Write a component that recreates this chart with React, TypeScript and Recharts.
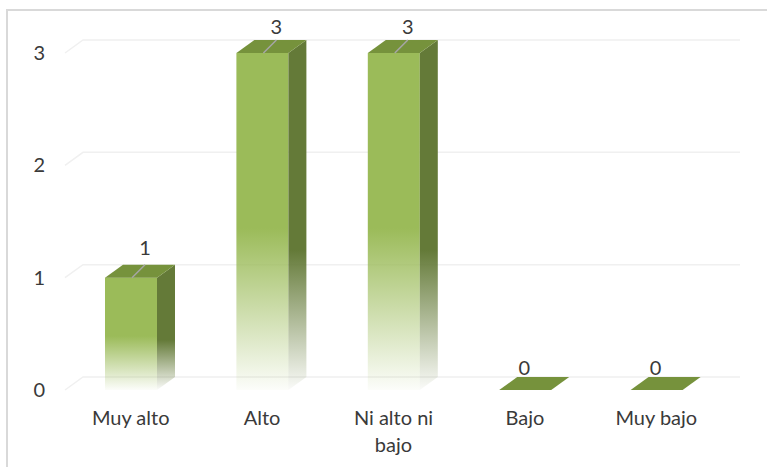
import { BarChart, Bar, XAxis, YAxis, CartesianGrid, LabelList } from "recharts";

const categories = ["Muy alto", "Alto", "Ni alto ni bajo", "Bajo", "Muy bajo"];
const counts = [1, 3, 3, 0, 0];
const yTicks = [0, 1, 2, 3];

const data = categories.map((name, i) => ({ name, count: counts[i] }));

const FONT = "Lato, sans-serif";
const TEXT = "#3a3a3a";
// 3d depth of the columns
const DX = 18;
const DY = 13;

function Column3D(props: any) {
  const { x, y, width, height, value } = props;
  const r = x + width;
  const b = y + height;
  return (
    <g>
      {height > 0 && <rect x={x} y={y} width={width} height={height} fill="url(#frontFade)" />}
      {height > 0 && (
        <polygon
          points={`${r},${y} ${r + DX},${y - DY} ${r + DX},${b - DY} ${r},${b}`}
          fill="url(#sideFade)"
        />
      )}
      <polygon points={`${x},${y} ${x + DX},${y - DY} ${r + DX},${y - DY} ${r},${y}`} fill="#76923c" />
      {value > 0 && (
        <line
          x1={x + width / 2 + 1}
          y1={y}
          x2={x + width / 2 + DX - 4}
          y2={y - DY}
          stroke="#a6a6a6"
          strokeWidth={1.5}
        />
      )}
    </g>
  );
}

function BackGridLine(props: any) {
  const { x1, x2, y1 } = props;
  return (
    <path
      d={`M${x1},${y1} L${x1 + DX},${y1 - DY} L${x2 + DX},${y1 - DY}`}
      fill="none"
      stroke="#f0f0f0"
      strokeWidth={1.5}
    />
  );
}

function ValueLabel(props: any) {
  const { x, y, width, value } = props;
  // the labels sit at slightly different spots per value in the original
  const dx = value === 0 ? -1 : 14;
  const up = value === 0 ? 15 : value === 1 ? 23 : 19;
  return (
    <text x={x + width / 2 + dx} y={y - up} textAnchor="middle" fontFamily={FONT} fontSize={20} fill={TEXT}>
      {value}
    </text>
  );
}

function CategoryTick(props: any) {
  const { x, y, payload } = props;
  const lines = payload.value === "Ni alto ni bajo" ? ["Ni alto ni", "bajo"] : [payload.value];
  return (
    <text x={x} y={y} textAnchor="middle" fontFamily={FONT} fontSize={20} fill={TEXT}>
      {lines.map((l: string, i: number) => (
        <tspan key={l} x={x} dy={i === 0 ? 0 : 27}>
          {l}
        </tspan>
      ))}
    </text>
  );
}

export default function App() {
  return (
    <div style={{ position: "absolute", left: 0, top: 0, width: 767, height: 467, background: "#fff" }}>
      <div
        style={{
          position: "absolute",
          left: 6,
          top: 9,
          width: 761,
          height: 458,
          borderLeft: "2px solid #d9d9d9",
          borderTop: "2px solid #d9d9d9",
          boxSizing: "border-box",
        }}
      />
      <BarChart
        width={767}
        height={467}
        data={data}
        margin={{ top: 53, right: 45, bottom: 0, left: 0 }}
        barSize={52}
        style={{ position: "absolute", left: 0, top: 0 }}
      >
        <defs>
          <linearGradient id="frontFade" x1="0" y1="0" x2="0" y2="1">
            <stop offset="0%" stopColor="#9bbb59" />
            <stop offset="52%" stopColor="#9bbb59" />
            <stop offset="100%" stopColor="#9bbb59" stopOpacity={0.03} />
          </linearGradient>
          <linearGradient id="sideFade" x1="0" y1="0" x2="0" y2="1">
            <stop offset="0%" stopColor="#647a38" />
            <stop offset="60%" stopColor="#647a38" />
            <stop offset="100%" stopColor="#647a38" stopOpacity={0.03} />
          </linearGradient>
        </defs>
        <CartesianGrid vertical={false} horizontal={(p: any) => <BackGridLine key={p.key} {...p} />} />
        <XAxis
          dataKey="name"
          axisLine={false}
          tickLine={false}
          interval={0}
          height={77}
          tick={(p: any) => <CategoryTick {...p} y={425} />}
        />
        <YAxis
          domain={[0, 3]}
          ticks={yTicks}
          axisLine={false}
          tickLine={false}
          width={65}
          tick={{ fontFamily: FONT, fontSize: 20, fill: TEXT, dx: -12 }}
        />
        <Bar dataKey="count" isAnimationActive={false} shape={(p: any) => <Column3D {...p} />}>
          <LabelList dataKey="count" content={(p: any) => <ValueLabel {...p} />} />
        </Bar>
      </BarChart>
    </div>
  );
}
